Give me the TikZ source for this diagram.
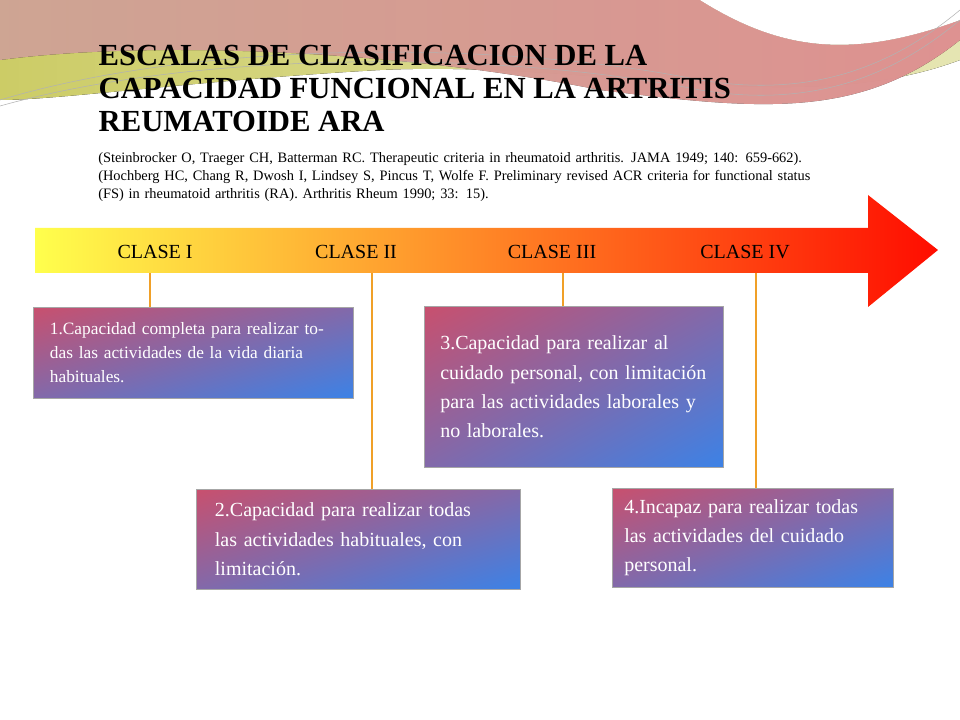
\documentclass[tikz,border=0pt]{standalone}
\usepackage{fontspec}
\setmainfont{Liberation Serif}
\usetikzlibrary{positioning,shadings}
\definecolor{boxred}{RGB}{200,80,110}
\definecolor{boxblue}{RGB}{60,130,230}
\definecolor{linkorange}{RGB}{240,160,40}
\tikzset{
    infobox/.style={draw=gray!70, anchor=north west, inner sep=6pt, align=left,
        text=white, upper left=boxred, lower right=boxblue, upper right=boxred!50!boxblue, lower left=boxred!50!boxblue},
    classlabel/.style={font=\fontsize{15}{15}\selectfont},
    link/.style={draw=linkorange, line width=1.5pt},
}
\begin{document}
\begin{tikzpicture}[x=0.75pt,y=-0.75pt]
    \useasboundingbox (0,0) rectangle (960,720);
    \fill[white] (0,0) rectangle (960,720);
    % top swoosh
    \fill[left color=olive!40, right color=olive!20] (0,0) -- (960,0) -- (960,60)
        .. controls (800,120) and (600,60) .. (380,70) .. controls (200,80) and (60,100) .. (0,100) -- cycle;
    \fill[left color=red!30!brown!40, right color=red!35, opacity=0.85] (0,0) -- (700,0)
        .. controls (780,50) and (850,60) .. (960,20) -- (960,40) .. controls (860,120) and (760,110) .. (600,90)
        .. controls (400,50) and (150,40) .. (0,60) -- cycle;
    \fill[white] (960,0) -- (700,0) .. controls (780,50) and (850,60) .. (960,20) -- cycle;
    \draw[gray!60] (0,100) .. controls (200,40) and (500,40) .. (700,80) .. controls (820,100) and (900,60) .. (960,10);
    \draw[gray!60] (0,106) .. controls (200,50) and (500,50) .. (700,90) .. controls (820,110) and (900,70) .. (960,20);
    % title
    \node[anchor=north west, align=left, font=\bfseries\fontsize{23}{25}\selectfont] (title) at (94,40)
        {ESCALAS DE CLASIFICACION DE LA\\CAPACIDAD FUNCIONAL EN LA ARTRITIS\\REUMATOIDE ARA};
    \node[anchor=north west, align=left, text width=540pt, inner sep=0pt, font=\fontsize{10.8}{13.5}\selectfont] (refs) at (98,152)
        {(Steinbrocker O, Traeger CH, Batterman RC. Therapeutic criteria in rheumatoid arthritis. JAMA 1949; 140: 659-662).\\
        (Hochberg HC, Chang R, Dwosh I, Lindsey S, Pincus T, Wolfe F. Preliminary revised ACR criteria for functional status (FS) in rheumatoid arthritis (RA). Arthritis Rheum 1990; 33: 15).};
    % arrow
    \shade[left color=yellow!70!white, middle color=orange!80!yellow, right color=red!90!orange]
        (35,228) -- (868,228) -- (868,195) -- (938,250) -- (868,307) -- (868,273) -- (35,273) -- cycle;
    \node[classlabel] (c1) at (155,252) {CLASE I};
    \node[classlabel] (c2) at (356,252) {CLASE II};
    \node[classlabel] (c3) at (552,252) {CLASE III};
    \node[classlabel] (c4) at (745,252) {CLASE IV};
    \coordinate (p1) at (150,273);
    \coordinate (p2) at (372,273);
    \coordinate (p3) at (563,273);
    \coordinate (p4) at (756,273);
    % boxes
    \node[infobox, minimum width=240pt, minimum height=68pt, text width=215pt, inner sep=4pt, font=\fontsize{13}{18}\selectfont] (b1) at (33,307)
        {1.Capacidad completa para realizar todas las actividades de la vida diaria habituales.};
    \node[infobox, minimum width=243pt, minimum height=75pt, text width=215pt, font=\fontsize{15}{22}\selectfont] (b2) at (196,489)
        {2.Capacidad para realizar todas las actividades habituales, con limitación.};
    \node[infobox, minimum width=224pt, minimum height=121pt, text width=200pt, font=\fontsize{15}{22}\selectfont] (b3) at (424,306)
        {3.Capacidad para realizar al cuidado personal, con limitación para las actividades laborales y no laborales.};
    \node[infobox, minimum width=211pt, minimum height=74pt, text width=193pt, font=\fontsize{15}{22}\selectfont] (b4) at (612,488)
        {4.Incapaz para realizar todas las actividades del cuidado personal.};
    \draw[link] (p1) -- (p1 |- b1.north);
    \draw[link] (p2) -- (p2 |- b2.north);
    \draw[link] (p3) -- (p3 |- b3.north);
    \draw[link] (p4) -- (p4 |- b4.north);
\end{tikzpicture}
\end{document}
